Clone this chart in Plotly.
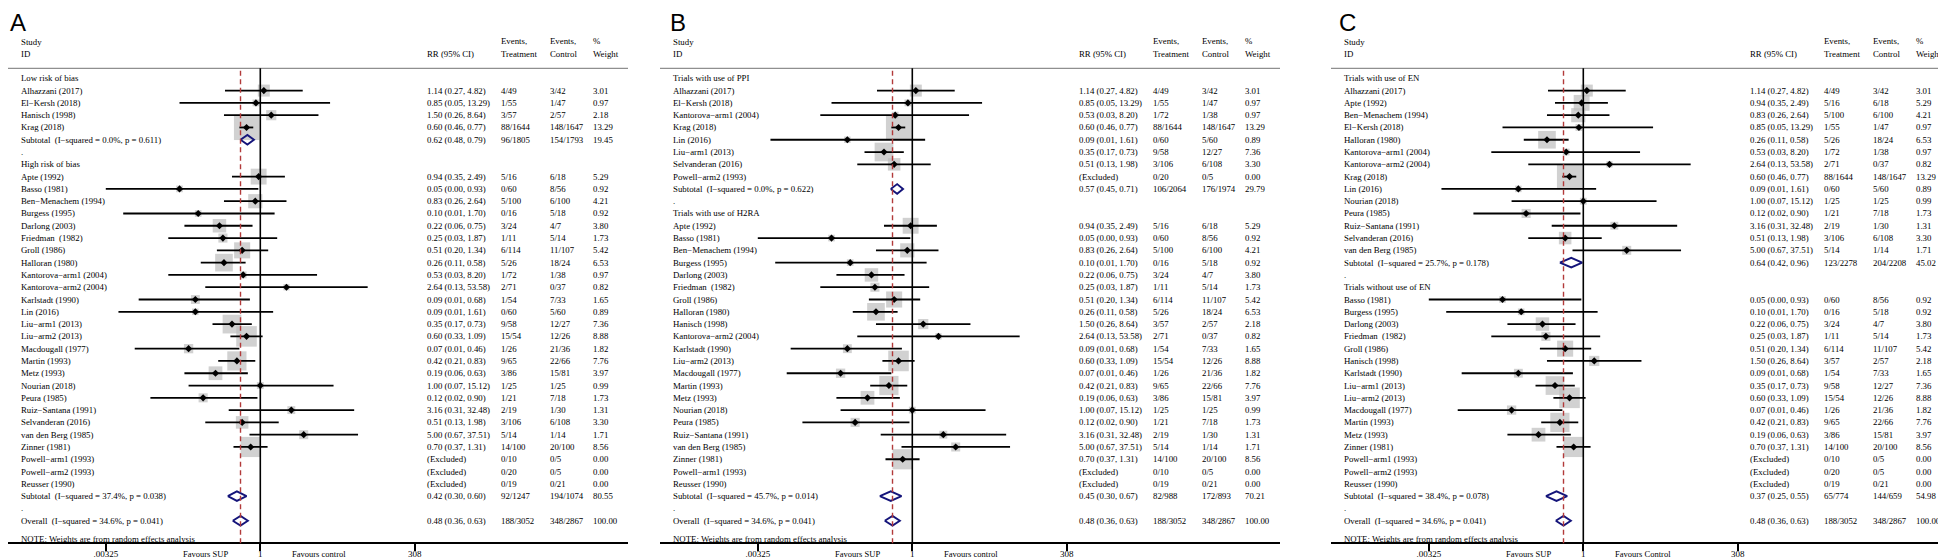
import plotly.graph_objects as go

# ---------------- data ----------------
study_names = ["Alhazzani (2017)", "El−Kersh (2018)", "Hanisch (1998)", "Krag (2018)",
               "Apte (1992)", "Basso (1981)", "Ben−Menachem (1994)", "Burgess (1995)",
               "Darlong (2003)", "Friedman  (1982)", "Groll (1986)", "Halloran (1980)",
               "Kantorova−arm1 (2004)", "Kantorova−arm2 (2004)", "Karlstadt (1990)",
               "Lin (2016)", "Liu−arm1 (2013)", "Liu−arm2 (2013)", "Macdougall (1977)",
               "Martin (1993)", "Metz (1993)", "Nourian (2018)", "Peura (1985)",
               "Ruiz−Santana (1991)", "Selvanderan (2016)", "van den Berg (1985)",
               "Zinner (1981)", "Powell−arm1 (1993)", "Powell−arm2 (1993)", "Reusser (1990)"]
study_rr = [1.14, 0.85, 1.50, 0.60, 0.94, 0.05, 0.83, 0.10, 0.22, 0.25, 0.51, 0.26, 0.53, 2.64,
            0.09, 0.09, 0.35, 0.60, 0.07, 0.42, 0.19, 1.00, 0.12, 3.16, 0.51, 5.00, 0.70,
            None, None, None]
study_lo = [0.27, 0.05, 0.26, 0.46, 0.35, 0.00325, 0.26, 0.0062, 0.06, 0.033, 0.20, 0.11, 0.033,
            0.13, 0.011, 0.0052, 0.17, 0.33, 0.0095, 0.21, 0.06, 0.07, 0.017, 0.31, 0.13, 0.67,
            0.37, None, None, None]
study_hi = [4.82, 13.29, 8.64, 0.77, 2.49, 0.93, 2.64, 1.70, 0.75, 1.87, 1.34, 0.58, 8.20, 53.58,
            0.68, 1.61, 0.73, 1.09, 0.46, 0.83, 0.63, 15.12, 0.90, 32.48, 1.98, 37.51, 1.31,
            None, None, None]
study_evt = ["4/49", "1/55", "3/57", "88/1644", "5/16", "0/60", "5/100", "0/16", "3/24", "1/11",
             "6/114", "5/26", "1/72", "2/71", "1/54", "0/60", "9/58", "15/54", "1/26", "9/65",
             "3/86", "1/25", "1/21", "2/19", "3/106", "5/14", "14/100", "0/10", "0/20", "0/19"]
study_evc = ["3/42", "1/47", "2/57", "148/1647", "6/18", "8/56", "6/100", "5/18", "4/7", "5/14",
             "11/107", "18/24", "1/38", "0/37", "7/33", "5/60", "12/27", "12/26", "21/36",
             "22/66", "15/81", "1/25", "7/18", "1/30", "6/108", "1/14", "20/100", "0/5", "0/5",
             "0/21"]
study_wt = [3.01, 0.97, 2.18, 13.29, 5.29, 0.92, 4.21, 0.92, 3.80, 1.73, 5.42, 6.53, 0.97, 0.82,
            1.65, 0.89, 7.36, 8.88, 1.82, 7.76, 3.97, 0.99, 1.73, 1.31, 3.30, 1.71, 8.56,
            0.00, 0.00, 0.00]

# panel A: risk of bias
A_titles = ["Low risk of bias", "High risk of bias"]
A_group1 = ["Alhazzani (2017)", "El−Kersh (2018)", "Hanisch (1998)", "Krag (2018)"]
A_group2 = ["Apte (1992)", "Basso (1981)", "Ben−Menachem (1994)", "Burgess (1995)",
            "Darlong (2003)", "Friedman  (1982)", "Groll (1986)", "Halloran (1980)",
            "Kantorova−arm1 (2004)", "Kantorova−arm2 (2004)", "Karlstadt (1990)", "Lin (2016)",
            "Liu−arm1 (2013)", "Liu−arm2 (2013)", "Macdougall (1977)", "Martin (1993)",
            "Metz (1993)", "Nourian (2018)", "Peura (1985)", "Ruiz−Santana (1991)",
            "Selvanderan (2016)", "van den Berg (1985)", "Zinner (1981)", "Powell−arm1 (1993)",
            "Powell−arm2 (1993)", "Reusser (1990)"]
A_sub_rr = [0.62, 0.42]
A_sub_lo = [0.48, 0.30]
A_sub_hi = [0.79, 0.60]
A_sub_evt = ["96/1805", "92/1247"]
A_sub_evc = ["154/1793", "194/1074"]
A_sub_wt = [19.45, 80.55]
A_sub_i2 = [0.0, 37.4]
A_sub_p = [0.611, 0.038]

# panel B: PPI vs H2RA
B_titles = ["Trials with use of PPI", "Trials with use of H2RA"]
B_group1 = ["Alhazzani (2017)", "El−Kersh (2018)", "Kantorova−arm1 (2004)", "Krag (2018)",
            "Lin (2016)", "Liu−arm1 (2013)", "Selvanderan (2016)", "Powell−arm2 (1993)"]
B_group2 = ["Apte (1992)", "Basso (1981)", "Ben−Menachem (1994)", "Burgess (1995)",
            "Darlong (2003)", "Friedman  (1982)", "Groll (1986)", "Halloran (1980)",
            "Hanisch (1998)", "Kantorova−arm2 (2004)", "Karlstadt (1990)", "Liu−arm2 (2013)",
            "Macdougall (1977)", "Martin (1993)", "Metz (1993)", "Nourian (2018)",
            "Peura (1985)", "Ruiz−Santana (1991)", "van den Berg (1985)", "Zinner (1981)",
            "Powell−arm1 (1993)", "Reusser (1990)"]
B_sub_rr = [0.57, 0.45]
B_sub_lo = [0.45, 0.30]
B_sub_hi = [0.71, 0.67]
B_sub_evt = ["106/2064", "82/988"]
B_sub_evc = ["176/1974", "172/893"]
B_sub_wt = [29.79, 70.21]
B_sub_i2 = [0.0, 45.7]
B_sub_p = [0.622, 0.014]

# panel C: enteral nutrition
C_titles = ["Trials with use of EN", "Trials without use of EN"]
C_group1 = ["Alhazzani (2017)", "Apte (1992)", "Ben−Menachem (1994)", "El−Kersh (2018)",
            "Halloran (1980)", "Kantorova−arm1 (2004)", "Kantorova−arm2 (2004)", "Krag (2018)",
            "Lin (2016)", "Nourian (2018)", "Peura (1985)", "Ruiz−Santana (1991)",
            "Selvanderan (2016)", "van den Berg (1985)"]
C_group2 = ["Basso (1981)", "Burgess (1995)", "Darlong (2003)", "Friedman  (1982)",
            "Groll (1986)", "Hanisch (1998)", "Karlstadt (1990)", "Liu−arm1 (2013)",
            "Liu−arm2 (2013)", "Macdougall (1977)", "Martin (1993)", "Metz (1993)",
            "Zinner (1981)", "Powell−arm1 (1993)", "Powell−arm2 (1993)", "Reusser (1990)"]
C_sub_rr = [0.64, 0.37]
C_sub_lo = [0.42, 0.25]
C_sub_hi = [0.96, 0.55]
C_sub_evt = ["123/2278", "65/774"]
C_sub_evc = ["204/2208", "144/659"]
C_sub_wt = [45.02, 54.98]
C_sub_i2 = [25.7, 38.4]
C_sub_p = [0.178, 0.078]

overall_rr, overall_lo, overall_hi = 0.48, 0.36, 0.63
overall_evt, overall_evc, overall_wt = "188/3052", "348/2867", 100.00
overall_i2, overall_p = 34.6, 0.041

panel_letters = ["A", "B", "C"]
favours_left = ["Favours SUP", "Favours SUP", "Favours SUP"]
favours_right = ["Favours control", "Favours control", "Favours Control"]
tick_vals = [0.00325, 1, 308]
tick_text = [".00325", "1", "308"]

# ---------------- layout constants ----------------
W, H = 1946, 557
offsets = [0, 652, 1323]
letter_x = [1, 661, 1330]
PW = 620           # panel width in px
C1 = 252.3         # px position of RR = 1 inside a panel
DEC = 62.1         # px per decade
ROW0, ROWH = 70.3, 12.289
AXIS_PX = 535.3
HEAD_PX = 60.3
SERIF = "Liberation Serif"
FS = 8.8
GREY = "#bdbdbd"
NAVY = "#14147a"
RED = "#b23a3a"


def ypaper(px):
    return (H - px) / H


def row_of_px(px):
    return (px - ROW0) / ROWH


idx = {n: i for i, n in enumerate(study_names)}
panels = [
    (A_titles, [A_group1, A_group2], A_sub_rr, A_sub_lo, A_sub_hi, A_sub_evt, A_sub_evc, A_sub_wt, A_sub_i2, A_sub_p),
    (B_titles, [B_group1, B_group2], B_sub_rr, B_sub_lo, B_sub_hi, B_sub_evt, B_sub_evc, B_sub_wt, B_sub_i2, B_sub_p),
    (C_titles, [C_group1, C_group2], C_sub_rr, C_sub_lo, C_sub_hi, C_sub_evt, C_sub_evc, C_sub_wt, C_sub_i2, C_sub_p),
]

fig = go.Figure()
annotations = []
shapes = []
col_x = {"label": 10.8, "rr": 416.5, "evt": 491.0, "evc": 540.3, "wt": 583.0}


def fmt_ci(r, l, h):
    if r is None:
        return "(Excluded)"
    return f"{r:.2f} ({l:.2f}, {h:.2f})"


def add_text(text, px_x, row, size=FS, anchor="left"):
    annotations.append(dict(text=text, x=px_x / W, xref="paper", y=row, yref="y",
                            xanchor=anchor, yanchor="middle", showarrow=False,
                            font=dict(family=SERIF, size=size, color="black")))


for p, (titles, groups, s_rr, s_lo, s_hi, s_evt, s_evc, s_wt, s_i2, s_p) in enumerate(panels):
    off = offsets[p]
    xa = "x" if p == 0 else f"x{p + 1}"
    rows = []  # (row, kind, payload)
    r = 0
    for g, (title, members) in enumerate(zip(titles, groups)):
        rows.append((r, "head", title)); r += 1
        for m in members:
            rows.append((r, "study", m)); r += 1
        rows.append((r, "sub", g)); r += 1
        rows.append((r, "dot", None)); r += 1
    rows.append((r, "overall", None))
    note_row = row_of_px(530.5)

    sq_x, sq_y, sq_s = [], [], []
    ci_x, ci_y = [], []
    pt_x, pt_y = [], []
    dm_x, dm_y = [], []
    dh = 4.8 / ROWH
    for row, kind, pay in rows:
        if kind == "head":
            add_text(pay, off + col_x["label"], row)
        elif kind == "dot":
            add_text(".", off + col_x["label"], row)
        elif kind == "study":
            i = idx[pay]
            add_text(pay, off + col_x["label"], row)
            add_text(fmt_ci(study_rr[i], study_lo[i], study_hi[i]), off + col_x["rr"], row)
            add_text(study_evt[i], off + col_x["evt"], row)
            add_text(study_evc[i], off + col_x["evc"], row)
            add_text(f"{study_wt[i]:.2f}", off + col_x["wt"], row)
            if study_rr[i] is not None:
                sq_x.append(study_rr[i]); sq_y.append(row)
                sq_s.append(6.9 * study_wt[i] ** 0.5)
                ci_x += [study_lo[i], study_hi[i], None]
                ci_y += [row, row, None]
                pt_x.append(study_rr[i]); pt_y.append(row)
        else:
            if kind == "sub":
                g = pay
                rr_, lo_, hi_ = s_rr[g], s_lo[g], s_hi[g]
                lab = f"Subtotal  (I−squared = {s_i2[g]:.1f}%, p = {s_p[g]:.3f})"
                et, ec, wt = s_evt[g], s_evc[g], s_wt[g]
            else:
                rr_, lo_, hi_ = overall_rr, overall_lo, overall_hi
                lab = f"Overall  (I−squared = {overall_i2:.1f}%, p = {overall_p:.3f})"
                et, ec, wt = overall_evt, overall_evc, overall_wt
            add_text(lab, off + col_x["label"], row)
            add_text(fmt_ci(rr_, lo_, hi_), off + col_x["rr"], row)
            add_text(et, off + col_x["evt"], row)
            add_text(ec, off + col_x["evc"], row)
            add_text(f"{wt:.2f}", off + col_x["wt"], row)
            dm_x += [lo_, rr_, hi_, rr_, lo_, None]
            dm_y += [row, row - dh, row, row + dh, row, None]

    add_text("NOTE: Weights are from random effects analysis", off + col_x["label"], note_row)

    # column headers
    add_text("Study", off + 11, row_of_px(33.6))
    add_text("ID", off + 11, row_of_px(45.6))
    add_text("RR (95% CI)", off + col_x["rr"], row_of_px(45.6))
    add_text("Events,", off + col_x["evt"], row_of_px(33.2))
    add_text("Treatment", off + col_x["evt"], row_of_px(45.6))
    add_text("Events,", off + col_x["evc"], row_of_px(33.2))
    add_text("Control", off + col_x["evc"], row_of_px(45.6))
    add_text("%", off + col_x["wt"], row_of_px(33.2))
    add_text("Weight", off + col_x["wt"], row_of_px(45.6))

    # favours labels
    annotations.append(dict(text=favours_left[p], x=(off + C1 - 30) / W, xref="paper",
                            y=ypaper(545.5), yref="paper", xanchor="right", yanchor="middle",
                            showarrow=False, font=dict(family=SERIF, size=8.5, color="black")))
    annotations.append(dict(text=favours_right[p], x=(off + C1 + 30) / W, xref="paper",
                            y=ypaper(545.5), yref="paper", xanchor="left", yanchor="middle",
                            showarrow=False, font=dict(family=SERIF, size=8.5, color="black")))
    # panel letter
    annotations.append(dict(text=panel_letters[p], x=letter_x[p] / W, xref="paper",
                            y=1.0, yref="paper", xanchor="left", yanchor="top",
                            borderpad=0, showarrow=False,
                            font=dict(family="Liberation Sans", size=24, color="black")))

    # header rule
    shapes.append(dict(type="line", xref="paper", yref="paper", x0=off / W, x1=(off + PW) / W,
                       y0=ypaper(HEAD_PX), y1=ypaper(HEAD_PX),
                       line=dict(color="#8f8f8f", width=1.2)))
    # null line
    shapes.append(dict(type="line", xref=xa, yref="paper", x0=1, x1=1,
                       y0=ypaper(AXIS_PX), y1=ypaper(HEAD_PX), line=dict(color="black", width=1.6)))
    # overall effect dashed line
    shapes.append(dict(type="line", xref=xa, yref="paper", x0=overall_rr, x1=overall_rr,
                       y0=ypaper(AXIS_PX), y1=ypaper(62.5),
                       line=dict(color=RED, width=1.4, dash="5px,3.5px")))

    fig.add_trace(go.Scatter(x=sq_x, y=sq_y, xaxis=xa, yaxis="y", mode="markers",
                             marker=dict(symbol="square", size=sq_s, color=GREY,
                                         line=dict(width=0)),
                             hoverinfo="skip", showlegend=False))
    fig.add_trace(go.Scatter(x=ci_x, y=ci_y, xaxis=xa, yaxis="y", mode="lines",
                             line=dict(color="black", width=1.8),
                             hoverinfo="skip", showlegend=False))
    fig.add_trace(go.Scatter(x=pt_x, y=pt_y, xaxis=xa, yaxis="y", mode="markers",
                             marker=dict(symbol="diamond", size=5.5, color="black",
                                         line=dict(width=0)),
                             hoverinfo="skip", showlegend=False))
    fig.add_trace(go.Scatter(x=dm_x, y=dm_y, xaxis=xa, yaxis="y", mode="lines",
                             line=dict(color=NAVY, width=1.9),
                             hoverinfo="skip", showlegend=False))

    axis = dict(type="log", domain=[off / W, (off + PW) / W],
                range=[(0 - C1) / DEC, (PW - C1) / DEC],
                anchor="free", position=ypaper(AXIS_PX),
                showline=True, linecolor="black", linewidth=1.6,
                ticks="outside", ticklen=7, tickwidth=1.5, tickcolor="black",
                ticklabelstandoff=-5,
                tickvals=tick_vals, ticktext=tick_text,
                tickfont=dict(family=SERIF, size=9, color="black"),
                showgrid=False, zeroline=False, fixedrange=True)
    fig.layout["xaxis" if p == 0 else f"xaxis{p + 1}"] = axis

fig.update_layout(
    width=W, height=H, margin=dict(l=0, r=0, t=0, b=0),
    paper_bgcolor="white", plot_bgcolor="white",
    yaxis=dict(domain=[0, 1], range=[row_of_px(H), row_of_px(0)], visible=False,
               fixedrange=True),
    annotations=annotations, shapes=shapes, showlegend=False,
)

fig.write_html("out.html")
